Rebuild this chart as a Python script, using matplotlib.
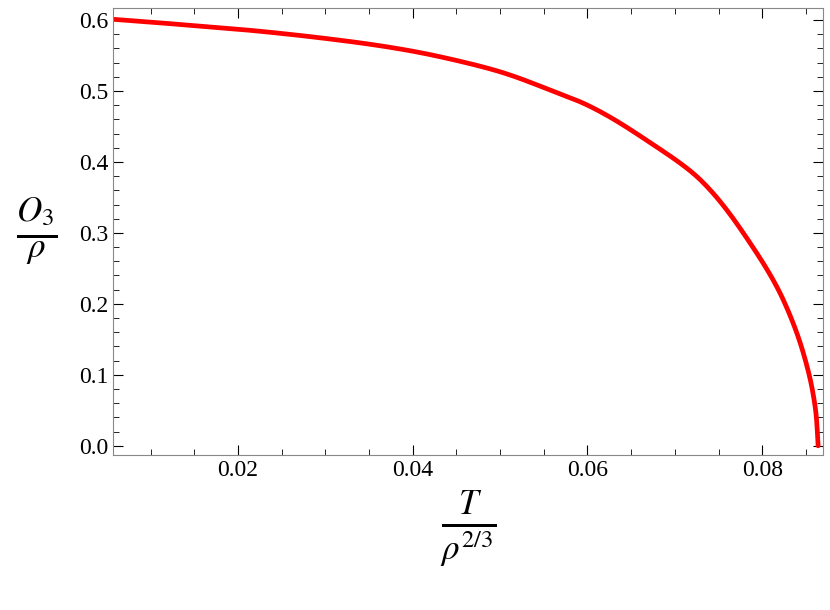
import matplotlib
matplotlib.use("Agg")
import matplotlib.pyplot as plt
import numpy as np

T = [0.0057, 0.01, 0.015, 0.02, 0.025, 0.03, 0.035, 0.04, 0.045, 0.05, 0.0558, 0.06, 0.0672, 0.0729, 0.0786, 0.0824, 0.0847, 0.0858, 0.0862, 0.0864]
O = [0.601, 0.597, 0.592, 0.587, 0.581, 0.574, 0.566, 0.556, 0.543, 0.527, 0.501, 0.480, 0.427, 0.375, 0.286, 0.206, 0.131, 0.075, 0.040, 0.0]

# smooth path through the read points (monotone cubic in parameter space)
t = np.array(T); o = np.array(O)
s = np.concatenate([[0], np.cumsum(np.hypot(np.diff(t) / 0.08, np.diff(o) / 0.6))])
ss = np.linspace(0, s[-1], 400)
def pchip(x, y, xn):
    h = np.diff(x); d = np.diff(y) / h
    m = np.zeros_like(y)
    for k in range(1, len(y) - 1):
        if d[k-1] * d[k] > 0:
            w1 = 2*h[k] + h[k-1]; w2 = h[k] + 2*h[k-1]
            m[k] = (w1 + w2) / (w1/d[k-1] + w2/d[k])
    m[0] = d[0]; m[-1] = d[-1]
    i = np.clip(np.searchsorted(x, xn) - 1, 0, len(h) - 1)
    u = (xn - x[i]) / h[i]
    h00 = 2*u**3 - 3*u**2 + 1; h10 = u**3 - 2*u**2 + u
    h01 = -2*u**3 + 3*u**2; h11 = u**3 - u**2
    return h00*y[i] + h10*h[i]*m[i] + h01*y[i+1] + h11*h[i]*m[i+1]
tx = pchip(s, t, ss); oy = pchip(s, o, ss)

plt.rcParams['font.family'] = ['Liberation Serif', 'DejaVu Serif']
plt.rcParams['mathtext.fontset'] = 'stix'
fig = plt.figure(figsize=(8.3, 6.1), dpi=100)
ax = fig.add_axes([0.136, 0.254, 0.856, 0.733])
ax.plot(tx, oy, color='#ff0000', lw=3.4, solid_capstyle='round')
ax.set_xlim(0.00567, 0.087)
ax.set_ylim(-0.013, 0.617)
ax.set_xticks([0.02, 0.04, 0.06, 0.08])
ax.set_yticks([0.0, 0.1, 0.2, 0.3, 0.4, 0.5, 0.6])
ax.set_yticklabels(['0.0', '0.1', '0.2', '0.3', '0.4', '0.5', '0.6'])
ax.set_xticks([0.005*i for i in range(2, 18)], minor=True)
ax.set_yticks([0.02*i for i in range(0, 31)], minor=True)
ax.tick_params(which='both', direction='in', top=True, right=True, labelsize=17)
ax.tick_params(which='major', length=7, width=0.8)
ax.tick_params(which='minor', length=4, width=0.6)
for sp in ax.spines.values():
    sp.set_color('#888888')
ax.set_xlabel(r'$\frac{T}{\rho^{2/3}}$', fontsize=36, labelpad=6)
ax.set_ylabel(r'$\frac{O_3}{\rho}$', fontsize=36, rotation=0, labelpad=30, va='center')
fig.savefig('out.png', dpi=100)
